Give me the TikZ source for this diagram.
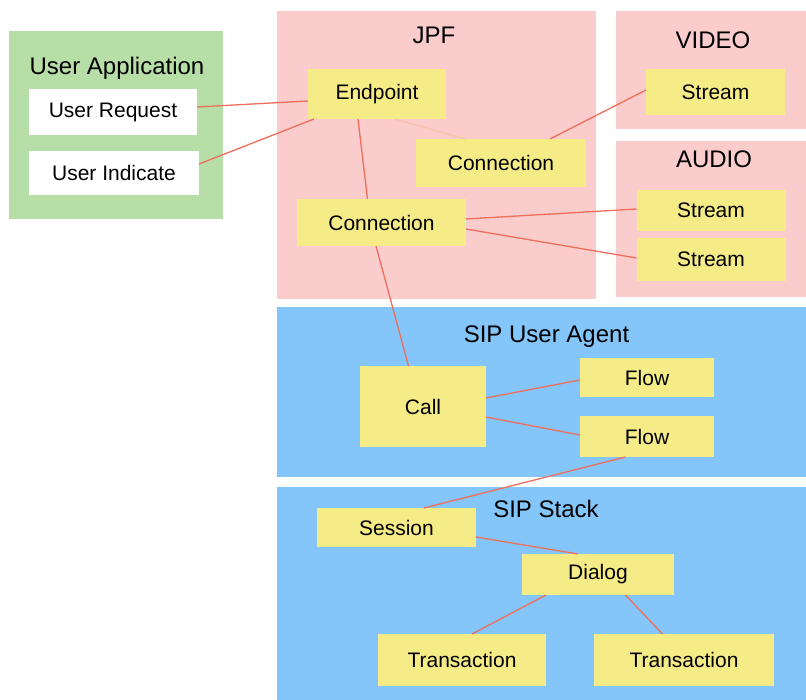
\documentclass[tikz,border=0pt]{standalone}
\usepackage{fontspec}
\setmainfont{Liberation Sans}
\definecolor{uagreen}{RGB}{183,222,166}
\definecolor{jpfpink}{RGB}{250,204,204}
\definecolor{sipblue}{RGB}{132,197,250}
\definecolor{boxyellow}{RGB}{245,235,135}
\definecolor{linkred}{RGB}{240,110,90}
\definecolor{linkpale}{RGB}{248,196,168}
\tikzset{
  area/.style={inner sep=0pt, outer sep=0pt, anchor=north west},
  ybox/.style={fill=boxyellow, inner sep=0pt, outer sep=0pt, font=\fontsize{21}{24}\selectfont},
  wbox/.style={fill=white, inner sep=0pt, outer sep=0pt, font=\fontsize{21}{24}\selectfont},
  ttl/.style={inner sep=0pt, anchor=base, font=\fontsize{24}{27}\selectfont},
  link/.style={draw=linkred, line width=1.3pt},
  palelink/.style={draw=linkpale, line width=1.3pt}
}
\begin{document}
\begin{tikzpicture}[x=1pt,y=-1pt]
\useasboundingbox (0,0) rectangle (806,700);
% areas
\node[area, fill=uagreen, minimum width=214pt, minimum height=188pt] (uaarea) at (9,31) {};
\node[area, fill=jpfpink, minimum width=319pt, minimum height=288pt] (jpfarea) at (277,11) {};
\node[area, fill=jpfpink, minimum width=190pt, minimum height=118pt] (videoarea) at (616,11) {};
\node[area, fill=jpfpink, minimum width=190pt, minimum height=156pt] (audioarea) at (616,141) {};
\node[area, fill=sipblue, minimum width=529pt, minimum height=170pt] (uagarea) at (277,307) {};
\node[area, fill=sipblue, minimum width=529pt, minimum height=213pt] (stackarea) at (277,487) {};
% titles
\node[ttl] (uattl) at (117,75) {User Application};
\node[ttl] (jpfttl) at (434,44) {JPF};
\node[ttl] (videottl) at (713,49) {VIDEO};
\node[ttl] (audiottl) at (714,168) {AUDIO};
\node[ttl] (uagttl) at (546.5,343) {SIP User Agent};
\node[ttl] (stackttl) at (546,517) {SIP Stack};
% boxes
\node[wbox, minimum width=168pt, minimum height=46pt] (ureq) at (113,112) {User Request};
\node[wbox, minimum width=170pt, minimum height=44pt] (uind) at (114,173) {User Indicate};
\node[ybox, minimum width=138pt, minimum height=50pt] (ep) at (377,94) {Endpoint};
\node[ybox, minimum width=170pt, minimum height=48pt] (conn1) at (501,163) {Connection};
\node[ybox, minimum width=169pt, minimum height=47pt] (conn2) at (381.5,222.5) {Connection};
\node[ybox, minimum width=139pt, minimum height=46pt] (vstr) at (715.5,92) {Stream};
\node[ybox, minimum width=149pt, minimum height=41pt] (astr1) at (711,210.5) {Stream};
\node[ybox, minimum width=149pt, minimum height=43pt] (astr2) at (711,259.5) {Stream};
\node[ybox, minimum width=126pt, minimum height=81pt] (call) at (423,406.5) {Call};
\node[ybox, minimum width=134.5pt, minimum height=39pt] (flow1) at (647,377.5) {Flow};
\node[ybox, minimum width=134.5pt, minimum height=41pt] (flow2) at (647,436.5) {Flow};
\node[ybox, minimum width=159pt, minimum height=39pt] (sess) at (396.5,527.5) {Session};
\node[ybox, minimum width=152.5pt, minimum height=41pt] (dlg) at (598,574.5) {Dialog};
\node[ybox, minimum width=168pt, minimum height=52pt] (tr1) at (462,660) {Transaction};
\node[ybox, minimum width=180.6pt, minimum height=52pt] (tr2) at (684,660) {Transaction};
% links
\draw[link] ([yshift=5pt]ureq.east) -- ([yshift=-7pt]ep.west);
\draw[link] ([yshift=9pt]uind.east) -- ([xshift=6pt]ep.south west);
\draw[palelink] ([xshift=18pt]ep.south) -- ([xshift=-36pt]conn1.north);
\draw[link] ([xshift=49pt]conn1.north) -- ([yshift=2pt]vstr.west);
\draw[link] ([xshift=-19pt]ep.south) -- ([xshift=-14pt]conn2.north);
\draw[link] ([yshift=3.5pt]conn2.east) -- ([yshift=1.5pt]astr1.west);
\draw[link] ([yshift=-6.5pt]conn2.east) -- ([yshift=1.5pt]astr2.west);
\draw[link] ([xshift=-5.5pt]conn2.south) -- ([xshift=-14.5pt]call.north);
\draw[link] ([yshift=8.5pt]call.east) -- ([yshift=-2.5pt]flow1.west);
\draw[link] ([yshift=-10.5pt]call.east) -- ([yshift=1.5pt]flow2.west);
\draw[link] ([xshift=-21.5pt]flow2.south) -- ([xshift=27.5pt]sess.north);
\draw[link] ([yshift=-9.5pt]sess.east) -- ([xshift=-20pt]dlg.north);
\draw[link] ([xshift=-52pt]dlg.south) -- ([xshift=10pt]tr1.north);
\draw[link] ([xshift=27.5pt]dlg.south) -- ([xshift=-21.5pt]tr2.north);
\end{tikzpicture}
\end{document}
